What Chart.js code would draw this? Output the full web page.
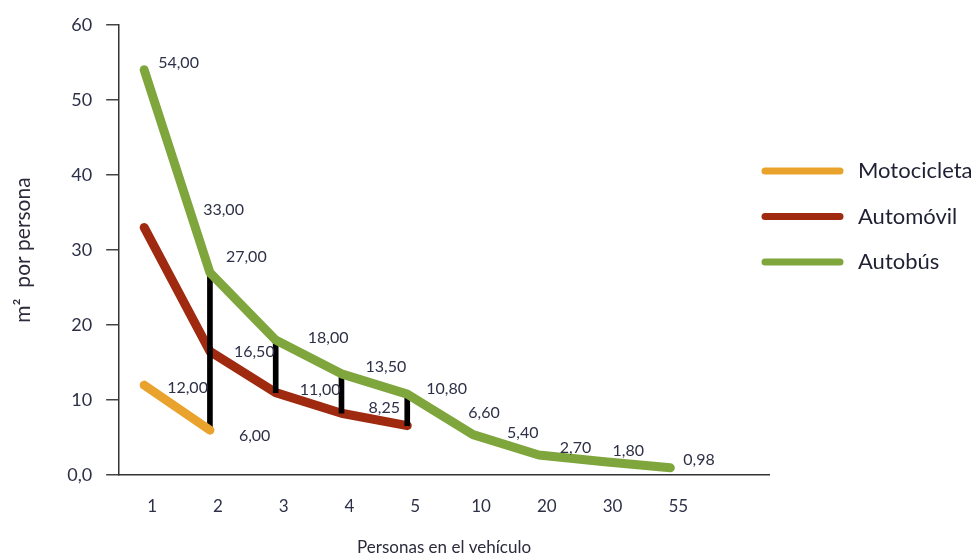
<!DOCTYPE html>
<html lang="es">
<head>
<meta charset="utf-8">
<title>m² por persona según ocupación del vehículo</title>
<script src="https://cdn.jsdelivr.net/npm/chart.js@4/dist/chart.umd.min.js"></script>
<style>
  html, body { margin: 0; padding: 0; background: #ffffff; }
  #wrap { width: 979px; height: 560px; position: relative; }
</style>
</head>
<body>
<div id="wrap"><canvas id="chart" width="979" height="560"></canvas></div>
<script>
// Personas en el vehículo (categorías del eje X)
const categories = ['1', '2', '3', '4', '5', '10', '20', '30', '55'];

// m² por persona para cada tipo de vehículo
const motocicleta = [12, 6];
const automovil = [33, 16.5, 11, 8.25, 6.6];
const autobus = [54, 27, 18, 13.5, 10.8, 5.4, 2.7, 1.8, 0.98];

// Categorías donde se marca la diferencia entre vehículos
const gapCategories = ['2', '3', '4', '5'];

// Marcas del eje Y
const yTicks = [0, 10, 20, 30, 40, 50, 60];

const seriesNames = ['Motocicleta', 'Automóvil', 'Autobús'];
const seriesColors = ['#e9a22b', '#9f2a10', '#7fa63c'];

const TEXT = '#2d3047';
const FONT = 'Lato, "Open Sans", sans-serif';

const toPoints = arr => arr.map((v, i) => ({ x: i, y: v }));

// Barras verticales: del valor menor al mayor entre vehículos en cada categoría
const gapBars = gapCategories.map(c => {
  const i = categories.indexOf(c);
  const vals = [motocicleta[i], automovil[i], autobus[i]].filter(v => v !== undefined);
  return { x: i, y: [Math.min(...vals), Math.max(...vals)] };
});

// Desplazamiento de cada etiqueta de valor respecto a su punto [dx, dy]
const labelOffsets = {
  0: [[23, 3], [29, 6]],
  1: [[59, -18], [24, 1], [24, -3], [27, -5], [61, -13]],
  2: [[14, -7], [16, -16], [32, -2], [24, -7], [19, -5], [34, -2], [21, -7], [8, -11], [13, -8]]
};

const fmt = v => v.toFixed(2).replace('.', ',');

// Etiquetas de valor junto a cada punto
const valueLabels = {
  id: 'valueLabels',
  afterDatasetsDraw(chart) {
    const ctx = chart.ctx;
    ctx.save();
    ctx.font = '16px ' + FONT;
    ctx.fillStyle = TEXT;
    ctx.textAlign = 'left';
    ctx.textBaseline = 'middle';
    chart.data.datasets.forEach((ds, di) => {
      if (ds.type === 'bar') return;
      const meta = chart.getDatasetMeta(di);
      meta.data.forEach((pt, i) => {
        const off = (labelOffsets[di] || [])[i] || [10, -8];
        ctx.fillText(fmt(ds.data[i].y), pt.x + off[0], pt.y + off[1]);
      });
    });
    ctx.restore();
  }
};

// Leyenda a la derecha con muestras de línea redondeadas
const sideLegend = {
  id: 'sideLegend',
  afterDraw(chart, args, opts) {
    const ctx = chart.ctx;
    const x0 = chart.chartArea.right + opts.gap;
    ctx.save();
    ctx.font = opts.fontSize + 'px ' + FONT;
    ctx.textAlign = 'left';
    ctx.textBaseline = 'middle';
    let y = opts.top;
    chart.data.datasets.forEach(ds => {
      if (ds.type === 'bar') return;
      ctx.strokeStyle = ds.borderColor;
      ctx.lineWidth = 7;
      ctx.lineCap = 'round';
      ctx.beginPath();
      ctx.moveTo(x0, y);
      ctx.lineTo(x0 + opts.sample, y);
      ctx.stroke();
      ctx.fillStyle = '#1f2033';
      ctx.fillText(ds.label, x0 + opts.sample + opts.textGap, y);
      y += opts.step;
    });
    ctx.restore();
  }
};

const lineDataset = (label, values, color, order) => ({
  type: 'line',
  label,
  data: toPoints(values),
  borderColor: color,
  backgroundColor: color,
  borderWidth: 9,
  borderCapStyle: 'round',
  borderJoinStyle: 'round',
  pointRadius: 0,
  tension: 0,
  order
});

new Chart(document.getElementById('chart'), {
  type: 'line',
  data: {
    datasets: [
      lineDataset(seriesNames[0], motocicleta, seriesColors[0], 1),
      lineDataset(seriesNames[1], automovil, seriesColors[1], 3),
      lineDataset(seriesNames[2], autobus, seriesColors[2], 1),
      {
        type: 'bar',
        label: '',
        data: gapBars,
        backgroundColor: '#000000',
        borderWidth: 0,
        barThickness: 5,
        order: 2
      }
    ]
  },
  options: {
    responsive: false,
    animation: false,
    layout: { padding: { left: 7, right: 210, top: 12, bottom: 0 } },
    plugins: {
      legend: { display: false },
      tooltip: { enabled: false },
      sideLegend: { gap: -4, sample: 75, textGap: 18, top: 171, step: 45.5, fontSize: 22 }
    },
    scales: {
      x: {
        type: 'linear',
        min: -0.38,
        max: 9.5,
        offset: false,
        afterBuildTicks: scale => { scale.ticks = categories.map((_, i) => ({ value: i })); },
        ticks: {
          autoSkip: false,
          maxRotation: 0,
          padding: 21,
          labelOffset: 8,
          color: TEXT,
          font: { family: FONT, size: 17 },
          callback: v => categories[v] ?? ''
        },
        grid: { display: true, drawOnChartArea: false, drawTicks: false },
        border: { display: true, color: '#333333', width: 1.5 },
        title: {
          display: true,
          text: 'Personas en el vehículo',
          color: '#2b2b3c',
          font: { family: FONT, size: 17 },
          padding: { top: 0, bottom: 2 }
        }
      },
      y: {
        min: 0,
        max: 60,
        afterBuildTicks: scale => { scale.ticks = yTicks.map(v => ({ value: v })); },
        ticks: {
          padding: 14,
          color: TEXT,
          font: { family: FONT, size: 18 },
          callback: v => (v === 0 ? '0,0' : String(v))
        },
        grid: { display: true, drawOnChartArea: false, drawTicks: true, tickLength: 13, color: '#444444', lineWidth: 1.5 },
        border: { display: true, color: '#333333', width: 1.5 },
        title: {
          display: true,
          text: 'm²  por persona',
          color: '#2b2b3c',
          font: { family: FONT, size: 21 },
          padding: { top: 4, bottom: 17 }
        }
      }
    }
  },
  plugins: [valueLabels, sideLegend]
});
</script>
</body>
</html>
